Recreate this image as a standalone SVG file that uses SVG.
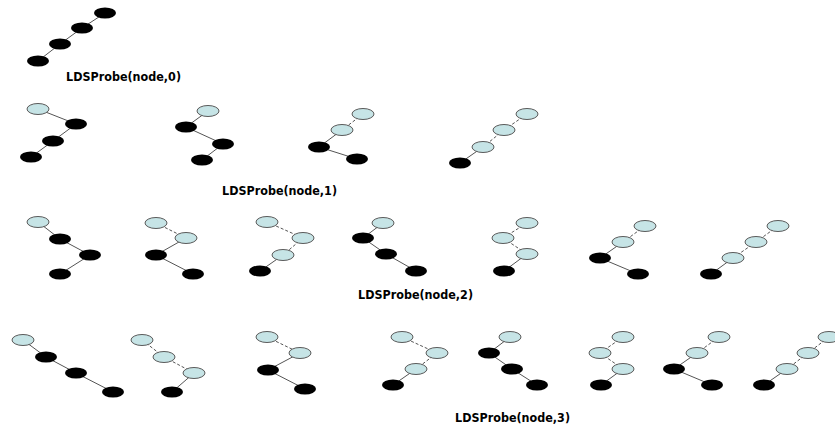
<svg xmlns="http://www.w3.org/2000/svg" width="835" height="428" viewBox="0 0 835 428">
  <style>
    .bg { fill: #ffffff; }
    .e { stroke: #555555; stroke-width: 1; fill: none; }
    .d { stroke: #555555; stroke-width: 1; fill: none; stroke-dasharray: 3 2; }
    .b { fill: #000000; }
    .l { fill: #c6e4e6; stroke: #5a5a5a; stroke-width: 1; }
    .t { font-family: "DejaVu Sans", "Liberation Sans", sans-serif; font-weight: bold; font-size: 13px; fill: #000000; }
  </style>
  <rect class="bg" x="0" y="0" width="835" height="428"/>

  <!-- connectors: solid = explored, dashed = discrepancy -->
  <g id="connectors">
    <!-- probe 0 -->
    <line class="e" x1="105" y1="13" x2="82" y2="28"/>
    <line class="e" x1="82" y1="28" x2="60" y2="44"/>
    <line class="e" x1="60" y1="44" x2="38" y2="61"/>
    <!-- probe 1 -->
    <line class="e" x1="38" y1="109" x2="76" y2="124"/>
    <line class="e" x1="76" y1="124" x2="53" y2="141"/>
    <line class="e" x1="53" y1="141" x2="31" y2="157"/>
    <line class="e" x1="208" y1="111" x2="186" y2="127"/>
    <line class="e" x1="186" y1="127" x2="223" y2="144"/>
    <line class="e" x1="223" y1="144" x2="202" y2="160"/>
    <line class="d" x1="363" y1="114" x2="342" y2="130"/>
    <line class="e" x1="342" y1="130" x2="319" y2="147"/>
    <line class="e" x1="319" y1="147" x2="357" y2="159"/>
    <line class="d" x1="527" y1="114" x2="504" y2="130"/>
    <line class="d" x1="504" y1="130" x2="483" y2="147"/>
    <line class="e" x1="483" y1="147" x2="460" y2="163"/>
    <!-- probe 2 -->
    <line class="e" x1="38" y1="222" x2="60" y2="239"/>
    <line class="e" x1="60" y1="239" x2="90" y2="255"/>
    <line class="e" x1="90" y1="255" x2="60" y2="274"/>
    <line class="d" x1="156" y1="223" x2="186" y2="238"/>
    <line class="e" x1="186" y1="238" x2="156" y2="255"/>
    <line class="e" x1="156" y1="255" x2="193" y2="274"/>
    <line class="d" x1="267" y1="222" x2="303" y2="238"/>
    <line class="d" x1="303" y1="238" x2="283" y2="255"/>
    <line class="e" x1="283" y1="255" x2="260" y2="271"/>
    <line class="e" x1="383" y1="223" x2="363" y2="238"/>
    <line class="e" x1="363" y1="238" x2="386" y2="254"/>
    <line class="e" x1="386" y1="254" x2="416" y2="271"/>
    <line class="d" x1="527" y1="223" x2="503" y2="238"/>
    <line class="d" x1="503" y1="238" x2="527" y2="254"/>
    <line class="e" x1="527" y1="254" x2="504" y2="271"/>
    <line class="d" x1="645" y1="226" x2="623" y2="242"/>
    <line class="e" x1="623" y1="242" x2="600" y2="258"/>
    <line class="e" x1="600" y1="258" x2="638" y2="274"/>
    <line class="d" x1="778" y1="226" x2="756" y2="242"/>
    <line class="d" x1="756" y1="242" x2="733" y2="258"/>
    <line class="e" x1="733" y1="258" x2="711" y2="274"/>
    <!-- probe 3 -->
    <line class="e" x1="23" y1="340" x2="46" y2="357"/>
    <line class="e" x1="46" y1="357" x2="76" y2="373"/>
    <line class="e" x1="76" y1="373" x2="113" y2="392"/>
    <line class="d" x1="142" y1="340" x2="164" y2="357"/>
    <line class="d" x1="164" y1="357" x2="194" y2="373"/>
    <line class="e" x1="194" y1="373" x2="172" y2="392"/>
    <line class="d" x1="267" y1="337" x2="300" y2="353"/>
    <line class="e" x1="300" y1="353" x2="268" y2="370"/>
    <line class="e" x1="268" y1="370" x2="305" y2="389"/>
    <line class="d" x1="402" y1="337" x2="437" y2="353"/>
    <line class="d" x1="437" y1="353" x2="416" y2="369"/>
    <line class="e" x1="416" y1="369" x2="393" y2="385"/>
    <line class="e" x1="510" y1="337" x2="489" y2="353"/>
    <line class="e" x1="489" y1="353" x2="512" y2="369"/>
    <line class="e" x1="512" y1="369" x2="537" y2="385"/>
    <line class="d" x1="623" y1="337" x2="600" y2="353"/>
    <line class="d" x1="600" y1="353" x2="623" y2="369"/>
    <line class="e" x1="623" y1="369" x2="601" y2="385"/>
    <line class="d" x1="719" y1="337" x2="697" y2="353"/>
    <line class="e" x1="697" y1="353" x2="674" y2="369"/>
    <line class="e" x1="674" y1="369" x2="712" y2="385"/>
    <line class="d" x1="829" y1="337" x2="808" y2="353"/>
    <line class="d" x1="808" y1="353" x2="787" y2="369"/>
    <line class="e" x1="787" y1="369" x2="764" y2="385"/>
  </g>

  <!-- probe 0 -->
  <g id="p0-t1">
    <ellipse class="b" cx="105" cy="13" rx="11" ry="5.5"/>
    <ellipse class="b" cx="82" cy="28" rx="11" ry="5.5"/>
    <ellipse class="b" cx="60" cy="44" rx="11" ry="5.5"/>
    <ellipse class="b" cx="38" cy="61" rx="11" ry="5.5"/>
  </g>
  <g id="label-0"><text class="t" x="66" y="81" textLength="115" lengthAdjust="spacingAndGlyphs">LDSProbe(node,0)</text></g>

  <!-- probe 1 -->
  <g id="p1-t1">
    <ellipse class="l" cx="38" cy="109" rx="11" ry="5.5"/>
    <ellipse class="b" cx="76" cy="124" rx="11" ry="5.5"/>
    <ellipse class="b" cx="53" cy="141" rx="11" ry="5.5"/>
    <ellipse class="b" cx="31" cy="157" rx="11" ry="5.5"/>
  </g>
  <g id="p1-t2">
    <ellipse class="l" cx="208" cy="111" rx="11" ry="5.5"/>
    <ellipse class="b" cx="186" cy="127" rx="11" ry="5.5"/>
    <ellipse class="b" cx="223" cy="144" rx="11" ry="5.5"/>
    <ellipse class="b" cx="202" cy="160" rx="11" ry="5.5"/>
  </g>
  <g id="p1-t3">
    <ellipse class="l" cx="363" cy="114" rx="11" ry="5.5"/>
    <ellipse class="l" cx="342" cy="130" rx="11" ry="5.5"/>
    <ellipse class="b" cx="319" cy="147" rx="11" ry="5.5"/>
    <ellipse class="b" cx="357" cy="159" rx="11" ry="5.5"/>
  </g>
  <g id="p1-t4">
    <ellipse class="l" cx="527" cy="114" rx="11" ry="5.5"/>
    <ellipse class="l" cx="504" cy="130" rx="11" ry="5.5"/>
    <ellipse class="l" cx="483" cy="147" rx="11" ry="5.5"/>
    <ellipse class="b" cx="460" cy="163" rx="11" ry="5.5"/>
  </g>
  <g id="label-1"><text class="t" x="222" y="195" textLength="115" lengthAdjust="spacingAndGlyphs">LDSProbe(node,1)</text></g>

  <!-- probe 2 -->
  <g id="p2-t1">
    <ellipse class="l" cx="38" cy="222" rx="11" ry="5.5"/>
    <ellipse class="b" cx="60" cy="239" rx="11" ry="5.5"/>
    <ellipse class="b" cx="90" cy="255" rx="11" ry="5.5"/>
    <ellipse class="b" cx="60" cy="274" rx="11" ry="5.5"/>
  </g>
  <g id="p2-t2">
    <ellipse class="l" cx="156" cy="223" rx="11" ry="5.5"/>
    <ellipse class="l" cx="186" cy="238" rx="11" ry="5.5"/>
    <ellipse class="b" cx="156" cy="255" rx="11" ry="5.5"/>
    <ellipse class="b" cx="193" cy="274" rx="11" ry="5.5"/>
  </g>
  <g id="p2-t3">
    <ellipse class="l" cx="267" cy="222" rx="11" ry="5.5"/>
    <ellipse class="l" cx="303" cy="238" rx="11" ry="5.5"/>
    <ellipse class="l" cx="283" cy="255" rx="11" ry="5.5"/>
    <ellipse class="b" cx="260" cy="271" rx="11" ry="5.5"/>
  </g>
  <g id="p2-t4">
    <ellipse class="l" cx="383" cy="223" rx="11" ry="5.5"/>
    <ellipse class="b" cx="363" cy="238" rx="11" ry="5.5"/>
    <ellipse class="b" cx="386" cy="254" rx="11" ry="5.5"/>
    <ellipse class="b" cx="416" cy="271" rx="11" ry="5.5"/>
  </g>
  <g id="p2-t5">
    <ellipse class="l" cx="527" cy="223" rx="11" ry="5.5"/>
    <ellipse class="l" cx="503" cy="238" rx="11" ry="5.5"/>
    <ellipse class="l" cx="527" cy="254" rx="11" ry="5.5"/>
    <ellipse class="b" cx="504" cy="271" rx="11" ry="5.5"/>
  </g>
  <g id="p2-t6">
    <ellipse class="l" cx="645" cy="226" rx="11" ry="5.5"/>
    <ellipse class="l" cx="623" cy="242" rx="11" ry="5.5"/>
    <ellipse class="b" cx="600" cy="258" rx="11" ry="5.5"/>
    <ellipse class="b" cx="638" cy="274" rx="11" ry="5.5"/>
  </g>
  <g id="p2-t7">
    <ellipse class="l" cx="778" cy="226" rx="11" ry="5.5"/>
    <ellipse class="l" cx="756" cy="242" rx="11" ry="5.5"/>
    <ellipse class="l" cx="733" cy="258" rx="11" ry="5.5"/>
    <ellipse class="b" cx="711" cy="274" rx="11" ry="5.5"/>
  </g>
  <g id="label-2"><text class="t" x="358" y="299" textLength="115" lengthAdjust="spacingAndGlyphs">LDSProbe(node,2)</text></g>

  <!-- probe 3 -->
  <g id="p3-t1">
    <ellipse class="l" cx="23" cy="340" rx="11" ry="5.5"/>
    <ellipse class="b" cx="46" cy="357" rx="11" ry="5.5"/>
    <ellipse class="b" cx="76" cy="373" rx="11" ry="5.5"/>
    <ellipse class="b" cx="113" cy="392" rx="11" ry="5.5"/>
  </g>
  <g id="p3-t2">
    <ellipse class="l" cx="142" cy="340" rx="11" ry="5.5"/>
    <ellipse class="l" cx="164" cy="357" rx="11" ry="5.5"/>
    <ellipse class="l" cx="194" cy="373" rx="11" ry="5.5"/>
    <ellipse class="b" cx="172" cy="392" rx="11" ry="5.5"/>
  </g>
  <g id="p3-t3">
    <ellipse class="l" cx="267" cy="337" rx="11" ry="5.5"/>
    <ellipse class="l" cx="300" cy="353" rx="11" ry="5.5"/>
    <ellipse class="b" cx="268" cy="370" rx="11" ry="5.5"/>
    <ellipse class="b" cx="305" cy="389" rx="11" ry="5.5"/>
  </g>
  <g id="p3-t4">
    <ellipse class="l" cx="402" cy="337" rx="11" ry="5.5"/>
    <ellipse class="l" cx="437" cy="353" rx="11" ry="5.5"/>
    <ellipse class="l" cx="416" cy="369" rx="11" ry="5.5"/>
    <ellipse class="b" cx="393" cy="385" rx="11" ry="5.5"/>
  </g>
  <g id="p3-t5">
    <ellipse class="l" cx="510" cy="337" rx="11" ry="5.5"/>
    <ellipse class="b" cx="489" cy="353" rx="11" ry="5.5"/>
    <ellipse class="b" cx="512" cy="369" rx="11" ry="5.5"/>
    <ellipse class="b" cx="537" cy="385" rx="11" ry="5.5"/>
  </g>
  <g id="p3-t6">
    <ellipse class="l" cx="623" cy="337" rx="11" ry="5.5"/>
    <ellipse class="l" cx="600" cy="353" rx="11" ry="5.5"/>
    <ellipse class="l" cx="623" cy="369" rx="11" ry="5.5"/>
    <ellipse class="b" cx="601" cy="385" rx="11" ry="5.5"/>
  </g>
  <g id="p3-t7">
    <ellipse class="l" cx="719" cy="337" rx="11" ry="5.5"/>
    <ellipse class="l" cx="697" cy="353" rx="11" ry="5.5"/>
    <ellipse class="b" cx="674" cy="369" rx="11" ry="5.5"/>
    <ellipse class="b" cx="712" cy="385" rx="11" ry="5.5"/>
  </g>
  <g id="p3-t8">
    <ellipse class="l" cx="829" cy="337" rx="11" ry="5.5"/>
    <ellipse class="l" cx="808" cy="353" rx="11" ry="5.5"/>
    <ellipse class="l" cx="787" cy="369" rx="11" ry="5.5"/>
    <ellipse class="b" cx="764" cy="385" rx="11" ry="5.5"/>
  </g>
  <g id="label-3"><text class="t" x="455" y="422" textLength="115" lengthAdjust="spacingAndGlyphs">LDSProbe(node,3)</text></g>
</svg>
